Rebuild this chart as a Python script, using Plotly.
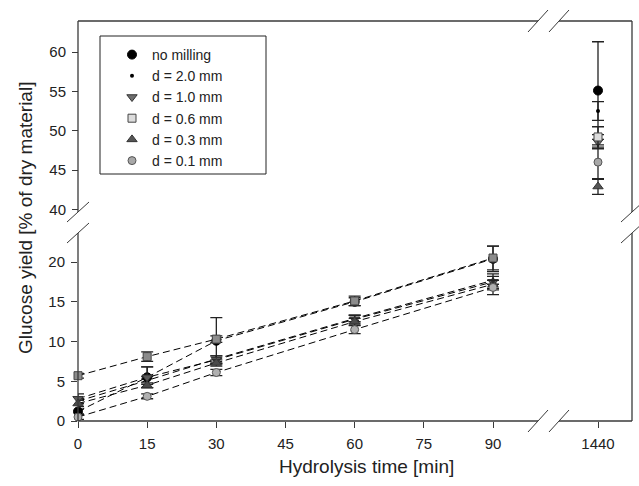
import plotly.graph_objects as go

# ---------------- data ----------------
times = [0, 15, 30, 60, 90]
time_long = [1440]
series_names = ["no milling", "d = 2.0 mm", "d = 1.0 mm", "d = 0.6 mm", "d = 0.3 mm", "d = 0.1 mm"]

no_milling = [1.2, 5.5, 10.1, 15.0, 20.4]
d20 = [2.5, 5.1, 7.8, 12.9, 17.7]
d10 = [2.8, 5.5, 7.7, 12.8, 17.5]
d06 = [5.7, 8.1, 10.3, 15.1, 20.5]
d03 = [2.2, 4.5, 7.3, 12.5, 17.2]
d01 = [0.5, 3.1, 6.1, 11.5, 16.8]

err_no_milling = [0.3, 1.3, 2.9, 0.5, 1.6]
err_d20 = [0.3, 0.5, 0.4, 0.4, 0.5]
err_d10 = [0.6, 1.3, 0.5, 0.5, 1.0]
err_d06 = [0.3, 0.6, 0.4, 0.6, 1.5]
err_d03 = [0.4, 0.3, 0.4, 0.4, 0.5]
err_d01 = [0.3, 0.3, 0.4, 0.5, 0.9]

long_values = [55.1, 52.5, 48.6, 49.2, 42.9, 46.0]
long_errors = [6.2, 1.2, 0.9, 1.3, 1.0, 2.2]

x_ticks_short = [0, 15, 30, 45, 60, 75, 90]
y_ticks_low = [0, 5, 10, 15, 20]
y_ticks_high = [40, 45, 50, 55, 60]

# ---------------- styles ----------------
styles = [
    dict(symbol="circle", size=9, color="#000000", line=dict(color="#000000", width=1)),
    dict(symbol="circle", size=4, color="#000000", line=dict(color="#000000", width=0)),
    dict(symbol="triangle-down", size=9, color="#5a5a5a", line=dict(color="#333333", width=1)),
    dict(symbol="square", size=8, color="#8c8c8c", line=dict(color="#444444", width=1)),
    dict(symbol="triangle-up", size=9, color="#4a4a4a", line=dict(color="#333333", width=1)),
    dict(symbol="circle", size=8, color="#b0b0b0", line=dict(color="#555555", width=1)),
]
legend_fill = ["#000000", "#000000", "#6e6e6e", "#dcdcdc", "#555555", "#a8a8a8"]

short_vals = [no_milling, d20, d10, d06, d03, d01]
short_errs = [err_no_milling, err_d20, err_d10, err_d06, err_d03, err_d01]

fig = go.Figure()

FRAME = "#3a3a3a"

for name, vals, errs, st in zip(series_names, short_vals, short_errs, styles):
    fig.add_trace(go.Scatter(
        x=times, y=vals, mode="lines+markers", name=name, showlegend=False,
        line=dict(color="#000000", width=1, dash="7px,4px"),
        marker=st,
        error_y=dict(type="data", array=errs, color="#222222", thickness=1.3, width=6),
        xaxis="x", yaxis="y", cliponaxis=False,
    ))

for i, (name, v, e, st) in enumerate(zip(series_names, long_values, long_errors, styles)):
    m = dict(st)
    m["color"] = legend_fill[i]
    fig.add_trace(go.Scatter(
        x=time_long, y=[v], mode="markers", name=name, showlegend=True,
        marker=m,
        error_y=dict(type="data", array=[e], color="#222222", thickness=1.3, width=6),
        xaxis="x2", yaxis="y2", cliponaxis=False,
    ))

# geometry (pixels in the 639x486 page)
L, R, T, B = 78, 632, 21, 421
W, H = R - L, B - T
xb1, xb2 = 538, 559   # x break
yb1, yb2 = 212, 233   # y break: upper segment bottom, lower segment top

dx1 = [0, (xb1 - L) / W]
dx2 = [(xb2 - L) / W, 1]
dy_low = [0, (B - yb2) / H]
dy_high = [(B - yb1) / H, 1]

px_per_min = (493 - 78) / 90.0
x1440_px = 598
px_per_unit_low = (421 - 262) / 20.0
px_per_unit_high = (170 - 52) / 15.0

x1_range = [0, (xb1 - L) / px_per_min]
x2_range = [1440 - (x1440_px - xb2) / px_per_min, 1440 + (R - x1440_px) / px_per_min]
y_low_range = [0, (B - yb2) / px_per_unit_low]
y_high_top = 60 + (52 - T) / px_per_unit_high
y_high_range = [y_high_top - (yb1 - T) / px_per_unit_high, y_high_top]

font_family = "Arial, Liberation Sans, Helvetica, sans-serif"
tickfont = dict(family=font_family, size=15, color="#222222")

axis_common = dict(showgrid=False, zeroline=False, ticks="outside", ticklen=6,
                   tickcolor=FRAME, tickwidth=1, tickfont=tickfont, showline=False,
                   ticklabelstandoff=3)

fig.update_layout(
    width=639, height=486,
    margin=dict(l=L, r=639 - R, t=T, b=486 - B),
    paper_bgcolor="white", plot_bgcolor="white",
    font=dict(family=font_family, color="#222222"),
    xaxis=dict(domain=dx1, range=x1_range, tickvals=x_ticks_short, anchor="y", **axis_common),
    yaxis=dict(domain=dy_low, range=y_low_range, tickvals=y_ticks_low, anchor="x", **axis_common),
    xaxis2=dict(domain=dx2, range=x2_range, tickvals=time_long, anchor="y3", **axis_common),
    yaxis2=dict(domain=dy_high, range=y_high_range, anchor="x2", showticklabels=False,
                showgrid=False, zeroline=False, ticks=""),
    yaxis3=dict(domain=dy_low, range=y_low_range, anchor="x2", visible=False),
    yaxis4=dict(domain=dy_high, range=y_high_range, tickvals=y_ticks_high, anchor="free",
                position=0, **axis_common),
    xaxis4=dict(domain=dx1, range=x1_range, visible=False, anchor="y4"),
    showlegend=True,
    legend=dict(x=(112 - L) / W, y=1 - (39 - T) / H, xanchor="left", yanchor="top",
                borderwidth=0, bgcolor="rgba(0,0,0,0)",
                font=dict(family=font_family, size=14, color="#222222"),
                tracegroupgap=0, itemwidth=30),
)

fig.add_trace(go.Scatter(x=[None], y=[None], xaxis="x4", yaxis="y4", showlegend=False,
                         hoverinfo="skip"))

def px(xp):
    return (xp - L) / W

def py(yp):
    return (B - yp) / H

shapes = []
def seg(x0, y0, x1, y1, w=1.3):
    shapes.append(dict(type="line", xref="paper", yref="paper", x0=px(x0), y0=py(y0),
                       x1=px(x1), y1=py(y1), line=dict(color=FRAME, width=w)))

# frame
seg(L, B, xb1, B); seg(xb2, B, R, B)
seg(L, T, xb1, T); seg(xb2, T, R, T)
seg(L, B, L, yb2); seg(L, yb1, L, T)
seg(R, B, R, yb2); seg(R, yb1, R, T)
# break marks
for yy in (B, T):
    seg(xb1 - 10, yy + 11, xb1 + 10, yy - 11, 1)
    seg(xb2 - 10, yy + 11, xb2 + 10, yy - 11, 1)
for xx in (L, R):
    seg(xx - 11, yb1 + 10, xx + 11, yb1 - 10, 1)
    seg(xx - 11, yb2 + 10, xx + 11, yb2 - 10, 1)

# legend frame
shapes.append(dict(type="rect", xref="paper", yref="paper", x0=px(100), x1=px(266),
                   y0=py(174), y1=py(36), line=dict(color="#222222", width=1),
                   fillcolor="rgba(0,0,0,0)"))

fig.update_layout(shapes=shapes)

fig.add_annotation(text="Hydrolysis time [min]", xref="paper", yref="paper",
                   x=px(366), y=py(466), yanchor="middle", xanchor="center", showarrow=False,
                   font=dict(family=font_family, size=19, color="#222222"))
fig.add_annotation(text="Glucose yield [% of dry material]", xref="paper", yref="paper",
                   x=px(25), y=py(218), xanchor="center", yanchor="middle",
                   showarrow=False, textangle=-90,
                   font=dict(family=font_family, size=19, color="#222222"))

fig.write_html("out.html")
